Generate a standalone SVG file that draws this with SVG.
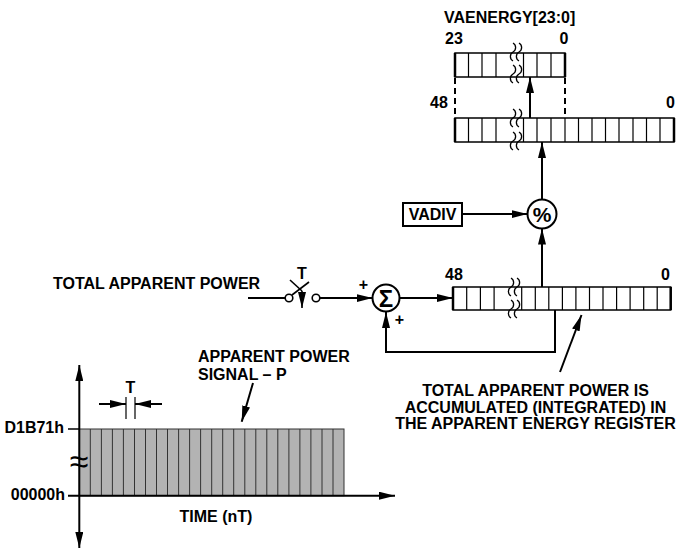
<svg xmlns="http://www.w3.org/2000/svg" width="676" height="549" viewBox="0 0 676 549">
<style>
text{font-family:"Liberation Sans",Arial,sans-serif;font-weight:bold;font-size:16px;fill:#000}
.ln{stroke:#000;stroke-width:2;fill:none}
.cell{stroke:#000;stroke-width:1.2}
.reg{fill:#fff;stroke:#000;stroke-width:1.5}
.end{stroke:#000;stroke-width:2.5}
.sq{stroke:#000;stroke-width:1.3;fill:none}
.dash{stroke:#000;stroke-width:2;stroke-dasharray:6,4}
.sl{stroke:#333;stroke-width:1}
</style>
<defs>
<marker id="ah" markerWidth="16" markerHeight="8" refX="16" refY="4" orient="auto-start-reverse" markerUnits="userSpaceOnUse"><path d="M0,0 L16,4 L0,8 z" fill="#000"/></marker>
<path id="wv" d="M0,0 c3.5,2 3.5,7 0,9 c-3.5,2 -3.5,7 0,9" class="sq"/>
</defs>

<g id="vaenergy-register">
<text x="444" y="23">VAENERGY[23:0]</text>
<text x="445" y="44">23</text>
<text x="564" y="44" text-anchor="middle">0</text>
<rect class="reg" x="455" y="53" width="110" height="24"/>
<g class="cell"><line x1="468.5" y1="53" x2="468.5" y2="77"/><line x1="482" y1="53" x2="482" y2="77"/><line x1="496" y1="53" x2="496" y2="77"/><line x1="523.5" y1="53" x2="523.5" y2="77"/><line x1="537" y1="53" x2="537" y2="77"/><line x1="551" y1="53" x2="551" y2="77"/></g>
<line class="end" x1="455" y1="53" x2="455" y2="77"/><line class="end" x1="565" y1="53" x2="565" y2="77"/>
<use href="#wv" x="513" y="43"/><use href="#wv" x="519" y="43"/><use href="#wv" x="513" y="65"/><use href="#wv" x="519" y="65"/>
</g>

<g id="energy-register">
<text x="430" y="108">48</text>
<text x="675" y="108" text-anchor="end">0</text>
<rect class="reg" x="455" y="118" width="219" height="24"/>
<g class="cell"><line x1="468.5" y1="118" x2="468.5" y2="142"/><line x1="482" y1="118" x2="482" y2="142"/><line x1="496" y1="118" x2="496" y2="142"/><line x1="523.5" y1="118" x2="523.5" y2="142"/><line x1="537" y1="118" x2="537" y2="142"/><line x1="551" y1="118" x2="551" y2="142"/><line x1="565" y1="118" x2="565" y2="142"/><line x1="578.5" y1="118" x2="578.5" y2="142"/><line x1="592" y1="118" x2="592" y2="142"/><line x1="605.5" y1="118" x2="605.5" y2="142"/><line x1="619" y1="118" x2="619" y2="142"/><line x1="633" y1="118" x2="633" y2="142"/><line x1="646.5" y1="118" x2="646.5" y2="142"/><line x1="660" y1="118" x2="660" y2="142"/></g>
<line class="end" x1="455" y1="118" x2="455" y2="142"/><line class="end" x1="674" y1="118" x2="674" y2="142"/>
<use href="#wv" x="513" y="109"/><use href="#wv" x="519" y="109"/><use href="#wv" x="513" y="132"/><use href="#wv" x="519" y="132"/>
</g>

<g id="div">
<circle cx="542" cy="214" r="14.5" fill="#fff" stroke="#000" stroke-width="2"/>
<text x="542" y="221.5" text-anchor="middle" style="font-size:21px">%</text>
</g>

<g id="vadiv">
<rect x="403" y="203" width="59" height="23" fill="#fff" stroke="#000" stroke-width="2"/>
<text x="432.5" y="220" text-anchor="middle">VADIV</text>
</g>

<g id="accumulator-register">
<text x="445" y="279.5">48</text>
<text x="670" y="279.5" text-anchor="end">0</text>
<rect class="reg" x="453" y="287" width="217.7" height="23"/>
<g class="cell"><line x1="466.7" y1="287" x2="466.7" y2="310"/><line x1="480.4" y1="287" x2="480.4" y2="310"/><line x1="494.1" y1="287" x2="494.1" y2="310"/><line x1="521.7" y1="287" x2="521.7" y2="310"/><line x1="535.3" y1="287" x2="535.3" y2="310"/><line x1="548.8" y1="287" x2="548.8" y2="310"/><line x1="562.4" y1="287" x2="562.4" y2="310"/><line x1="575.9" y1="287" x2="575.9" y2="310"/><line x1="589.5" y1="287" x2="589.5" y2="310"/><line x1="603" y1="287" x2="603" y2="310"/><line x1="616.6" y1="287" x2="616.6" y2="310"/><line x1="630.1" y1="287" x2="630.1" y2="310"/><line x1="643.7" y1="287" x2="643.7" y2="310"/><line x1="657.2" y1="287" x2="657.2" y2="310"/></g>
<line class="end" x1="453" y1="287" x2="453" y2="310"/><line class="end" x1="670.7" y1="287" x2="670.7" y2="310"/>
<use href="#wv" x="511" y="278"/><use href="#wv" x="517" y="278"/><use href="#wv" x="511" y="300"/><use href="#wv" x="517" y="300"/>
</g>

<g id="sigma">
<circle cx="386" cy="298" r="13.5" fill="#fff" stroke="#000" stroke-width="2"/>
<text x="386" y="306.5" text-anchor="middle" style="font-size:24px">Σ</text>
<text x="363.5" y="290" text-anchor="middle">+</text>
<text x="399.5" y="325" text-anchor="middle">+</text>
</g>

<g id="switch">
<text x="53" y="289">TOTAL APPARENT POWER</text>
<text x="302" y="279" text-anchor="middle">T</text>
<circle cx="289" cy="298" r="3.8" fill="#fff" stroke="#000" stroke-width="1.6"/>
<circle cx="316" cy="298" r="3.8" fill="#fff" stroke="#000" stroke-width="1.6"/>
<line class="ln" x1="290" y1="280" x2="302" y2="291" style="stroke-width:1.6"/>
<line class="ln" x1="292" y1="295" x2="309" y2="282" style="stroke-width:1.6"/>
<line class="ln" x1="302" y1="291" x2="302" y2="308" style="stroke-width:1.6" marker-end="url(#ah)"/>
</g>

<g id="accumulate-note">
<text x="535.5" y="396" text-anchor="middle">TOTAL APPARENT POWER IS</text>
<text x="535.5" y="412.5" text-anchor="middle">ACCUMULATED (INTEGRATED) IN</text>
<text x="535.5" y="428.5" text-anchor="middle">THE APPARENT ENERGY REGISTER</text>
</g>

<g id="chart">
<rect x="79.3" y="429" width="264.7" height="66.7" fill="#b3b3b3" stroke="#333" stroke-width="1"/>
<g class="sl"><line x1="90.3" y1="429" x2="90.3" y2="495.7"/><line x1="101.4" y1="429" x2="101.4" y2="495.7"/><line x1="112.4" y1="429" x2="112.4" y2="495.7"/><line x1="123.4" y1="429" x2="123.4" y2="495.7"/><line x1="134.5" y1="429" x2="134.5" y2="495.7"/><line x1="145.5" y1="429" x2="145.5" y2="495.7"/><line x1="156.5" y1="429" x2="156.5" y2="495.7"/><line x1="167.5" y1="429" x2="167.5" y2="495.7"/><line x1="178.6" y1="429" x2="178.6" y2="495.7"/><line x1="189.6" y1="429" x2="189.6" y2="495.7"/><line x1="200.6" y1="429" x2="200.6" y2="495.7"/><line x1="211.7" y1="429" x2="211.7" y2="495.7"/><line x1="222.7" y1="429" x2="222.7" y2="495.7"/><line x1="233.7" y1="429" x2="233.7" y2="495.7"/><line x1="244.8" y1="429" x2="244.8" y2="495.7"/><line x1="255.8" y1="429" x2="255.8" y2="495.7"/><line x1="266.8" y1="429" x2="266.8" y2="495.7"/><line x1="277.8" y1="429" x2="277.8" y2="495.7"/><line x1="288.9" y1="429" x2="288.9" y2="495.7"/><line x1="299.9" y1="429" x2="299.9" y2="495.7"/><line x1="310.9" y1="429" x2="310.9" y2="495.7"/><line x1="322" y1="429" x2="322" y2="495.7"/><line x1="333" y1="429" x2="333" y2="495.7"/></g>
<line class="ln" x1="79.3" y1="365" x2="79.3" y2="548" marker-start="url(#ah)" marker-end="url(#ah)"/>
<line class="ln" x1="68" y1="495.7" x2="395" y2="495.7" marker-end="url(#ah)"/>
<line class="ln" x1="68" y1="429" x2="79" y2="429" style="stroke-width:1.5"/>
<text x="79" y="473" text-anchor="middle" style="font-size:34px;font-weight:normal">≈</text>
<text x="64" y="432.5" text-anchor="end">D1B71h</text>
<text x="65" y="500" text-anchor="end">00000h</text>
<text x="216" y="521.5" text-anchor="middle">TIME (nT)</text>
<text x="198" y="361.5">APPARENT POWER</text>
<text x="198" y="380">SIGNAL – P</text>
<text x="130.5" y="393" text-anchor="middle">T</text>
<line class="ln" x1="126" y1="397" x2="126" y2="419" style="stroke-width:1.2"/>
<line class="ln" x1="135" y1="397" x2="135" y2="419" style="stroke-width:1.2"/>
<line class="ln" x1="99" y1="404" x2="126" y2="404" marker-end="url(#ah)"/>
<line class="ln" x1="162" y1="404" x2="135" y2="404" marker-end="url(#ah)"/>
</g>

<g id="connectors">
<line class="ln" x1="248" y1="298" x2="285" y2="298"/>
<line class="ln" x1="320" y1="298" x2="372.5" y2="298" marker-end="url(#ah)"/>
<line class="ln" x1="399.5" y1="298" x2="453" y2="298" marker-end="url(#ah)"/>
<polyline class="ln" points="555,310 555,352 386,352 386,312" marker-end="url(#ah)"/>
<line class="ln" x1="542" y1="287" x2="542" y2="228.5" marker-end="url(#ah)"/>
<line class="ln" x1="462" y1="214" x2="527.5" y2="214" marker-end="url(#ah)"/>
<line class="ln" x1="542" y1="199.5" x2="542" y2="142" marker-end="url(#ah)"/>
<line class="ln" x1="530" y1="118" x2="530" y2="77" marker-end="url(#ah)"/>
<line class="dash" x1="455" y1="78" x2="455" y2="118"/>
<line class="dash" x1="565" y1="78" x2="565" y2="118"/>
<line class="ln" x1="560" y1="372" x2="581.5" y2="315" marker-end="url(#ah)"/>
<line class="ln" x1="253" y1="383" x2="241.7" y2="421.7" marker-end="url(#ah)"/>
</g>
</svg>
